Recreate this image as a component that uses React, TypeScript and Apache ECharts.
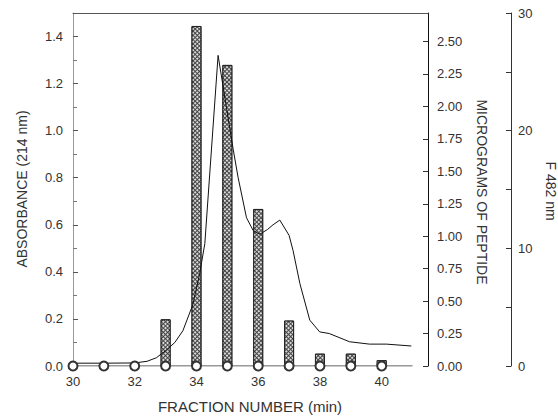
import React, { useEffect, useRef } from "react";
import * as echarts from "echarts";

// Absorbance (214 nm) trace, left axis
const absFraction = [30, 31, 32, 32.4, 32.7, 33.0, 33.3, 33.56, 33.88, 34.1, 34.27, 34.7, 34.86, 35.03, 35.19, 35.35, 35.62, 35.84, 36.05, 36.3, 36.48, 36.7, 37.0, 37.13, 37.35, 37.67, 37.99, 38.3, 38.96, 39.6, 40.15, 40.96];
const absValue = [0.012, 0.012, 0.013, 0.02, 0.035, 0.065, 0.1, 0.15, 0.26, 0.39, 0.52, 1.32, 1.19, 1.05, 0.92, 0.8, 0.63, 0.575, 0.56, 0.58, 0.6, 0.62, 0.555, 0.49, 0.35, 0.195, 0.145, 0.138, 0.103, 0.093, 0.093, 0.085];

// Micrograms of peptide per fraction (bars)
const barFraction = [33, 34, 35, 36, 37, 38, 39, 40];
const barValue = [0.36, 2.62, 2.32, 1.21, 0.35, 0.095, 0.095, 0.045];

// Fluorescence F 482 nm (circles)
const fluFraction = [30, 31, 32, 33, 34, 35, 36, 37, 38, 39, 40, 41];
const fluValue = [0, 0, 0, 0, 0, 0, 0, 0, 0, 0, 0, 0];

const xTitle = "FRACTION NUMBER (min)";
const yLeftTitle = "ABSORBANCE (214 nm)";
const yRightTitle = "MICROGRAMS OF PEPTIDE";
const yFarTitle = "F 482 nm";

const FONT = "'Liberation Sans', Arial, Helvetica, sans-serif";

export default function App() {
  const ref = useRef<HTMLDivElement>(null);
  useEffect(() => {
    if (!ref.current) return;
    const chart = echarts.init(ref.current, undefined, { renderer: "svg" });
    const labelStyle = { color: "#333", fontSize: 13, fontFamily: FONT };
    chart.setOption({
      animation: false,
      backgroundColor: "#ffffff",
      grid: { left: 73, right: 130, top: 13, bottom: 53, containLabel: false },
      xAxis: [
        {
          type: "value",
          min: 30,
          max: 41.5,
          interval: 2,
          axisLine: { show: false },
          axisTick: { show: false },
          splitLine: { show: false },
          axisLabel: { ...labelStyle, margin: 9, showMaxLabel: false },
        },
        {
          type: "value",
          position: "top",
          min: 30,
          max: 41.5,
          axisLine: { show: true, onZero: false, lineStyle: { color: "#555", width: 1 } },
          axisTick: { show: false },
          axisLabel: { show: false },
          splitLine: { show: false },
        },
      ],
      yAxis: [
        {
          type: "value",
          position: "left",
          min: 0,
          max: 1.5,
          interval: 0.2,
          axisLine: { show: true, onZero: false, lineStyle: { color: "#999", width: 1 } },
          axisTick: { show: true, inside: true, length: 5, lineStyle: { color: "#555" } },
          minorTick: { show: true, splitNumber: 2, length: 4, lineStyle: { color: "#777" } },
          splitLine: { show: false },
          axisLabel: { ...labelStyle, margin: 10, showMaxLabel: false, formatter: (v: number) => v.toFixed(1) },
        },
        {
          type: "value",
          position: "right",
          min: 0,
          max: 2.72,
          interval: 0.25,
          axisLine: { show: true, onZero: false, lineStyle: { color: "#111", width: 1 } },
          axisTick: { show: true, inside: true, length: 5, lineStyle: { color: "#333" } },
          splitLine: { show: false },
          axisLabel: { ...labelStyle, margin: 9, showMaxLabel: false, formatter: (v: number) => v.toFixed(2) },
        },
        {
          type: "value",
          position: "right",
          offset: 83,
          min: 0,
          max: 30,
          interval: 10,
          axisLine: { show: true, onZero: false, lineStyle: { color: "#333", width: 1 } },
          axisTick: { show: true, inside: true, length: 5, lineStyle: { color: "#333" } },
          minorTick: { show: true, splitNumber: 2, length: 5, lineStyle: { color: "#333" } },
          splitLine: { show: false },
          axisLabel: { ...labelStyle, margin: 7 },
        },
      ],
      series: [
        {
          type: "bar",
          name: "peptide",
          xAxisIndex: 0,
          yAxisIndex: 1,
          barWidth: 10,
          data: barFraction.map((x, i) => [x, barValue[i]]),
          itemStyle: {
            color: "#444",
            borderColor: "#222",
            borderWidth: 1,
            decal: {
              symbol: "rect",
              symbolSize: 1,
              dashArrayX: [2, 1],
              dashArrayY: [2, 1],
              rotation: Math.PI / 4,
              color: "rgba(255,255,255,0.8)",
            },
          },
          z: 2,
        },
        {
          type: "line",
          name: "absorbance",
          xAxisIndex: 0,
          yAxisIndex: 0,
          symbol: "none",
          data: absFraction.map((x, i) => [x, absValue[i]]),
          lineStyle: { color: "#111", width: 1 },
          z: 3,
        },
        {
          type: "line",
          name: "fluorescence",
          xAxisIndex: 0,
          yAxisIndex: 2,
          symbol: "emptyCircle",
          symbolSize: 9,
          data: fluFraction.map((x, i) =>
            x > 40 ? { value: [x, fluValue[i]], symbol: "none" } : [x, fluValue[i]]
          ),
          lineStyle: { color: "#333", width: 1 },
          itemStyle: { color: "#333", borderWidth: 1 },
          z: 4,
        },
      ],
      graphic: [
        {
          type: "text",
          x: 22,
          y: 189,
          rotation: Math.PI / 2,
          style: { text: yLeftTitle, fill: "#333", font: `14px ${FONT}`, textAlign: "center", textVerticalAlign: "middle" },
        },
        {
          type: "text",
          x: 482,
          y: 192,
          rotation: -Math.PI / 2,
          style: { text: yRightTitle, fill: "#333", font: `14px ${FONT}`, textAlign: "center", textVerticalAlign: "middle" },
        },
        {
          type: "text",
          x: 551,
          y: 191,
          rotation: -Math.PI / 2,
          style: { text: yFarTitle, fill: "#333", font: `14px ${FONT}`, textAlign: "center", textVerticalAlign: "middle" },
        },
        {
          type: "text",
          x: 250,
          y: 406,
          style: { text: xTitle, fill: "#333", font: `15px ${FONT}`, textAlign: "center", textVerticalAlign: "middle" },
        },
      ],
    });
    return () => chart.dispose();
  }, []);
  return (
    <div
      ref={ref}
      style={{ position: "fixed", left: 0, top: 0, width: 558, height: 419, background: "#fff" }}
    />
  );
}
